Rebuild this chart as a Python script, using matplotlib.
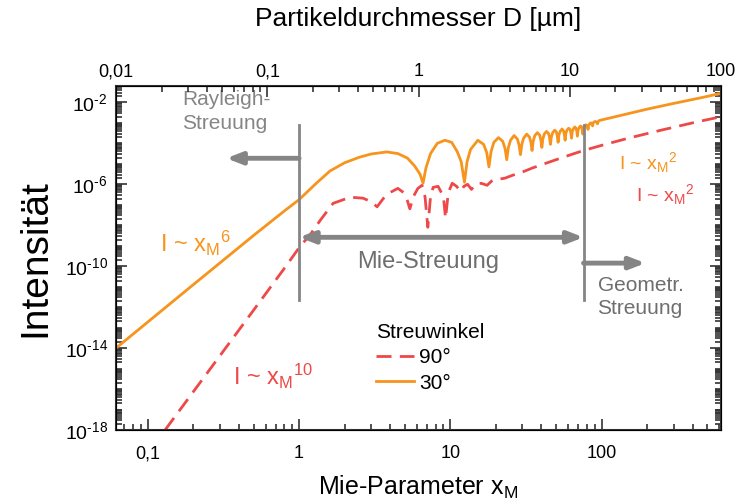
import numpy as np
import matplotlib
matplotlib.use("Agg")
import matplotlib.pyplot as plt
from matplotlib.ticker import LogLocator, FixedLocator, FixedFormatter, NullFormatter

plt.rcParams['font.family'] = ['Liberation Sans', 'DejaVu Sans']
plt.rcParams['mathtext.fontset'] = 'custom'
plt.rcParams['mathtext.rm'] = 'Liberation Sans'
plt.rcParams['mathtext.it'] = 'Liberation Sans:italic'
plt.rcParams['mathtext.bf'] = 'Liberation Sans:bold'

# ---------------- data ----------------
# 30 deg scattering angle: Mie parameter and log10(intensity)
x30 = [0.0616, 0.2, 0.5, 0.8, 1.0, 1.3, 1.6, 2.0, 2.5, 3.0, 3.8, 4.5, 5.2, 5.8, 6.3, 6.6,
       6.9, 7.4, 8.2, 9.2, 10.2, 11.1, 11.8, 12.4,
       12.9, 13.6, 15.2, 16.6, 17.4, 18.0, 18.6, 19.4, 20.8, 22.2, 23.0, 23.6, 24.2, 25.0,
       26.4, 27.8, 28.5, 29.1, 29.7, 30.5, 32.0, 33.4, 34.1, 34.7, 35.3, 36.2, 37.6, 39.0,
       39.7, 40.3, 40.9, 41.8, 43.2, 44.6, 45.3, 45.9, 46.5, 47.5, 49.0, 50.3, 51.0, 51.6,
       52.2, 53.2, 54.8, 56.1, 56.8, 57.4, 58.0, 59.0, 60.6, 62.0, 62.7, 63.3, 63.9, 65.0,
       66.5, 67.9, 68.6, 69.2, 69.8, 71.0, 72.5, 73.9, 74.6, 75.2, 75.8, 77.0, 78.5, 80.0,
       80.8, 81.4, 82.0, 83.2, 85.0, 86.5, 87.2, 87.8, 89.0, 91.0, 93.0, 94.0, 95.0, 97.0,
       120, 200, 300, 450, 616]
logI30 = [-14.0, -10.9, -8.5, -7.3, -6.75, -5.95, -5.35, -4.95, -4.68, -4.52, -4.42, -4.5,
          -4.72, -5.1, -5.5, -5.95,
          -5.2, -4.5, -4.0, -3.85, -3.95, -4.4, -4.9, -5.9,
          -4.9, -4.3, -3.85, -4.05, -4.45, -5.15, -4.4, -3.95, -3.72, -3.9, -4.25, -4.8, -4.2, -3.85,
          -3.62, -3.8, -4.1, -4.55, -4.05, -3.75, -3.55, -3.7, -3.95, -4.35, -3.9, -3.62, -3.48, -3.6,
          -3.85, -4.2, -3.78, -3.55, -3.42, -3.52, -3.72, -4.05, -3.7, -3.48, -3.36, -3.45, -3.65, -3.95,
          -3.6, -3.42, -3.3, -3.4, -3.58, -3.85, -3.52, -3.36, -3.26, -3.33, -3.5, -3.75, -3.45, -3.3,
          -3.2, -3.27, -3.42, -3.65, -3.38, -3.24, -3.15, -3.2, -3.35, -3.55, -3.3, -3.17, -3.1, -3.12,
          -3.22, -3.32, -3.15, -3.05, -3.0, -3.05, -3.15, -3.02, -2.96, -2.93, -2.98, -3.05, -2.93, -2.88,
          -2.72, -2.33, -2.05, -1.78, -1.56]

# 90 deg scattering angle
x90 = [0.13, 0.2, 0.5, 0.8, 1.0, 1.2, 1.38, 1.68, 2.18, 2.65, 3.0, 3.28, 3.6, 4.0, 4.5, 4.9,
       5.2, 5.4, 5.7, 6.1, 6.5, 6.8, 7.1, 7.4, 7.7, 8.3, 9.0, 9.3, 9.7, 10.3, 11.0, 11.7,
       12.3, 13.0, 13.8, 14.6, 16.0, 17.5, 19.0, 21.0, 23.0, 26.0, 30.0, 35.0, 40.0, 50.0,
       60.0, 76.0, 100, 150, 250, 400, 616]
logI90 = [-18.0, -16.13, -12.15, -10.1, -9.1, -8.4, -7.76, -6.93, -6.63, -6.68, -6.85, -7.1,
          -6.7, -6.4, -6.2, -6.4, -6.8, -7.2, -6.6, -6.2, -6.05, -6.6, -8.1, -6.6, -6.15, -6.1,
          -6.6, -7.66, -6.4, -5.95, -6.1, -6.35, -6.1, -6.0, -6.25, -6.0, -5.95, -6.05, -5.8,
          -5.75, -5.7, -5.55, -5.4, -5.2, -5.05, -4.8, -4.6, -4.35, -4.1, -3.75, -3.35, -3.0, -2.7]

xticks_bottom = [0.1, 1, 10, 100]
xlabels_bottom = ['0,1', '1', '10', '100']
dticks_top = [0.01, 0.1, 1, 10, 100]
dlabels_top = ['0,01', '0,1', '1', '10', '100']
yticks = [1e-18, 1e-14, 1e-10, 1e-6, 1e-2]
ylabels = [r'$10^{\text{-18}}$', r'$10^{\text{-14}}$', r'$10^{\text{-10}}$',
           r'$10^{\text{-6}}$', r'$10^{\text{-2}}$']

xlim = (0.0616, 616)
dlim = (0.01, 100)
ylim = (1e-18, 10 ** -1.2)

# ---------------- styling ----------------
ORANGE = '#F7941D'
RED = '#EE4848'
GRAY = '#858585'
DGRAY = '#6E6E6E'

fig = plt.figure(figsize=(7.36, 5.04), dpi=100)
ax = fig.add_axes([116 / 736, 74 / 504, 605 / 736, 344 / 504])

ax.plot(x90, 10 ** np.array(logI90), color=RED, lw=2.0, dashes=(5.4, 3.0), label='90°')
ax.plot(x30, 10 ** np.array(logI30), color=ORANGE, lw=2.0, label='30°')

ax.set_xscale('log')
ax.set_yscale('log')
ax.set_xlim(*xlim)
ax.set_ylim(*ylim)

ax.xaxis.set_major_locator(FixedLocator(xticks_bottom))
ax.xaxis.set_major_formatter(FixedFormatter(xlabels_bottom))
ax.xaxis.set_minor_locator(LogLocator(base=10, subs=np.arange(2, 10), numticks=50))
ax.xaxis.set_minor_formatter(NullFormatter())
ax.yaxis.set_major_locator(FixedLocator(yticks))
ax.yaxis.set_major_formatter(FixedFormatter(ylabels))
ax.yaxis.set_minor_locator(LogLocator(base=10, subs=np.arange(1, 10), numticks=100))
ax.yaxis.set_minor_formatter(NullFormatter())

ax.tick_params(which='both', direction='in', top=False, right=True, width=1.2, color='#333333')
ax.tick_params(which='major', length=8, labelsize=14, pad=6)
ax.tick_params(which='minor', length=4)
ax.tick_params(axis='x', labelsize=13, pad=11)
for s in ax.spines.values():
    s.set_linewidth(1.5)
    s.set_color('#333333')

ax2 = ax.twiny()
ax2.set_xscale('log')
ax2.set_xlim(*dlim)
ax2.xaxis.set_major_locator(FixedLocator(dticks_top))
ax2.xaxis.set_major_formatter(FixedFormatter(dlabels_top))
ax2.xaxis.set_minor_locator(LogLocator(base=10, subs=np.arange(2, 10), numticks=50))
ax2.xaxis.set_minor_formatter(NullFormatter())
ax2.tick_params(which='both', direction='in', width=1.2, color='#333333')
ax2.tick_params(which='major', length=8, labelsize=13, pad=4)
ax2.tick_params(which='minor', length=4)

ax.set_xlabel(r'Mie-Parameter x$_\mathrm{M}$', fontsize=18, labelpad=8)
ax.set_ylabel('Intensität', fontsize=28, labelpad=8)
ax2.set_xlabel('Partikeldurchmesser D [µm]', fontsize=19, labelpad=27)

# region lines and arrows
ax.plot([1, 1], [10 ** -11.66, 10 ** -3.12], color=GRAY, lw=2)
ax.plot([76, 76], [10 ** -11.66, 10 ** -3.12], color=GRAY, lw=2)
arrow_kw = dict(arrowstyle='-|>,head_length=0.9,head_width=0.35', color=GRAY, lw=3.5,
                shrinkA=0, shrinkB=0)
ax.annotate('', xy=(0.33, 10 ** -4.73), xytext=(1, 10 ** -4.73), arrowprops=arrow_kw)
ax.annotate('', xy=(195, 10 ** -9.85), xytext=(76, 10 ** -9.85), arrowprops=arrow_kw)
ax.annotate('', xy=(76, 10 ** -8.59), xytext=(1, 10 ** -8.59),
            arrowprops=dict(arrowstyle='<|-|>,head_length=0.9,head_width=0.35', color=GRAY,
                            lw=3.5, shrinkA=0, shrinkB=0))

ax.text(0.168, 10 ** -1.4, 'Rayleigh-\nStreuung', color=GRAY, fontsize=15, va='top',
        ha='left', linespacing=1.3)
ax.text(7.15, 10 ** -9.8, 'Mie-Streuung', color=DGRAY, fontsize=17, va='center', ha='center')
ax.text(94, 10 ** -11.5, 'Geometr.\nStreuung', color=DGRAY, fontsize=15, va='center',
        ha='left', linespacing=1.3)

ax.text(0.12, 10 ** -8.88, r'I ~ x$_\mathrm{M}{}^\mathrm{6}$', color=ORANGE, fontsize=17,
        va='center', ha='left')
ax.text(0.365, 10 ** -15.4, r'I ~ x$_\mathrm{M}{}^\mathrm{10}$', color=RED, fontsize=17,
        va='center', ha='left')
ax.text(131, 10 ** -4.93, r'I ~ x$_\mathrm{M}{}^\mathrm{2}$', color=ORANGE, fontsize=14,
        va='center', ha='left')
ax.text(170, 10 ** -6.49, r'I ~ x$_\mathrm{M}{}^\mathrm{2}$', color=RED, fontsize=14,
        va='center', ha='left')

leg = ax.legend(title='Streuwinkel', loc='upper left', bbox_to_anchor=(0.43, 0.311),
                frameon=False, fontsize=15, title_fontsize=15, handlelength=1.8,
                handletextpad=0.25, borderaxespad=0, labelspacing=0.3, borderpad=0)
leg._legend_box.align = 'left'

fig.savefig('out.png', dpi=100)
